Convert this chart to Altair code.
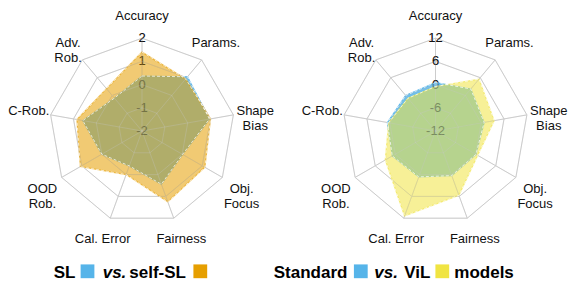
import math
import altair as alt
import pandas as pd

# ---------------- data ----------------
axes = ["Accuracy", "Params.", "Shape Bias", "Obj. Focus", "Fairness",
        "Cal. Error", "OOD Rob.", "C-Rob.", "Adv. Rob."]
axis_labels = ["Accuracy", "Params.", "Shape\nBias", "Obj.\nFocus", "Fairness",
               "Cal. Error", "OOD\nRob.", "C-Rob.", "Adv.\nRob."]

left_ticks = [2, 1, 0, -1, -2]
right_ticks = [12, 6, 0, -6, -12]

sl = [0.37, 1.05, 0.95, 0.02, 0.44, -0.40, 0.00, 0.59, -0.15]
self_sl = [1.40, 0.93, 1.00, 1.13, 1.25, 0.00, 1.07, 0.85, 0.38]
standard = [0.52, 2.2, 0.77, 0.08, 0.28, 0.63, 0.9, 0.63, 0.0]
vil = [-0.5, 5.5, 3.4, 0.6, 5.7, 11.4, 3.0, 0.3, -0.93]

series_names = ["SL", "self-SL", "Standard", "ViL"]
series_values = [sl, self_sl, standard, vil]
series_panel = ["L", "L", "R", "R"]
series_colors = ["#56B4E9", "#E69F00", "#56B4E9", "#F0E442"]
series_alpha = [0.85, 0.55, 0.85, 0.55]

legend_left = ["SL", "vs.", "self-SL"]
legend_right = ["Standard", "vs.", "ViL", "models"]

# ---------------- layout ----------------
W, H = 560, 274
K = 92.8           # px per unit radius
CX_L, CX_R, CY = 134, 427.5, 123
OFF_R = (CX_R - CX_L) / K
LABEL_R = 115 / K
XDOM = [-CX_L / K, (W - CX_L) / K]
YDOM = [-(H - CY) / K, CY / K]
N = len(axes)

panel_range = {"L": (left_ticks[-1], left_ticks[0]), "R": (right_ticks[-1], right_ticks[0])}

rows = []
for name, vals, pan in zip(series_names, series_values, series_panel):
    lo, hi = panel_range[pan]
    for i, v in enumerate(vals):
        rows.append({"series": name, "panel": pan, "idx": i, "value": v, "vmin": lo, "vmax": hi})
poly_df = pd.DataFrame(rows)

ring_rows = []
for pan, ticks in (("L", left_ticks), ("R", right_ticks)):
    lo, hi = panel_range[pan]
    for t in ticks[:-1]:
        for i in range(N):
            ring_rows.append({"panel": pan, "ring": t, "idx": i, "value": t, "vmin": lo, "vmax": hi})
ring_df = pd.DataFrame(ring_rows)

spoke_df = pd.DataFrame([{"panel": p, "idx": i} for p in ("L", "R") for i in range(N)])

tick_df = pd.DataFrame([{"panel": p, "value": t, "label": str(t),
                         "vmin": panel_range[p][0], "vmax": panel_range[p][1]}
                        for p, ts in (("L", left_ticks), ("R", right_ticks)) for t in ts])

label_df = pd.DataFrame([{"panel": p, "idx": i, "label": axis_labels[i]}
                         for p in ("L", "R") for i in range(N)])

offx = f"(datum.panel == 'L' ? 0 : {OFF_R})"
ang = f"datum.idx * 2 * PI / {N}"

xs = alt.Scale(domain=XDOM, nice=False, zero=False)
ys = alt.Scale(domain=YDOM, nice=False, zero=False)


def XY(xf="px", yf="py"):
    return dict(x=alt.X(f"{xf}:Q", scale=xs, axis=None),
                y=alt.Y(f"{yf}:Q", scale=ys, axis=None))


def polar(chart):
    return chart.transform_calculate(
        r="(datum.value - datum.vmin) / (datum.vmax - datum.vmin)"
    ).transform_calculate(
        px=f"{offx} + datum.r * sin({ang})",
        py=f"datum.r * cos({ang})",
    )


GRID = "#cccccc"

ring_base = polar(alt.Chart(ring_df)).transform_calculate(key="datum.panel + datum.ring")
rings = ring_base.mark_line(interpolate="linear-closed", stroke=GRID, strokeWidth=1).encode(
    **XY(), detail="key:N", order="idx:Q")
rings_over = ring_base.mark_line(interpolate="linear-closed", stroke=GRID, strokeWidth=1,
                                 strokeOpacity=0.3).encode(**XY(), detail="key:N", order="idx:Q")

spoke_base = alt.Chart(spoke_df).transform_calculate(
    px=f"{offx}", py="0",
    px2=f"{offx} + sin({ang})", py2=f"cos({ang})",
)
spokes = spoke_base.mark_rule(stroke=GRID, strokeWidth=1).encode(**XY(), x2="px2:Q", y2="py2:Q")
spokes_over = spoke_base.mark_rule(stroke=GRID, strokeWidth=1, strokeOpacity=0.3).encode(
    **XY(), x2="px2:Q", y2="py2:Q")

tick_base = alt.Chart(tick_df).transform_calculate(
    px=offx, py="(datum.value - datum.vmin) / (datum.vmax - datum.vmin)"
)
ticks = tick_base.mark_text(font="Liberation Sans", fontSize=13, color="#111111",
                            align="center", baseline="middle").encode(**XY(), text="label:N")
ticks_over = tick_base.mark_text(font="Liberation Sans", fontSize=13, color="#111111",
                                 opacity=0.3, align="center",
                                 baseline="middle").encode(**XY(), text="label:N")

fills = []
outlines = []
for name, col, a in zip(series_names, series_colors, series_alpha):
    b = polar(alt.Chart(poly_df)).transform_filter(alt.datum.series == name)
    fills.append(b.mark_line(interpolate="linear-closed", filled=True, fill=col,
                             fillOpacity=a, stroke=col, strokeOpacity=min(1, a + 0.1),
                             strokeWidth=1.2).encode(**XY(), order="idx:Q"))
    outlines.append(b.mark_line(interpolate="linear-closed", stroke="white",
                                strokeWidth=0.8, strokeOpacity=0.9,
                                strokeDash=[3, 2]).encode(**XY(), order="idx:Q"))

labels = alt.Chart(label_df).transform_calculate(
    px=f"{offx} + {LABEL_R} * sin({ang})",
    py=f"{LABEL_R} * cos({ang})",
).mark_text(font="Liberation Sans", fontSize=13, color="#111111", align="center",
            baseline="middle", lineBreak="\n", lineHeight=15).encode(**XY(), text="label:N")

# ---------------- legend ----------------
one = alt.Data(values=[{"a": 1}])
LB = 269.5      # text baseline
SQ_Y = 263.3    # square centre


def ltext(s, x, italic=False):
    return alt.Chart(one).mark_text(
        font="Liberation Sans", fontSize=17, fontWeight="bold",
        fontStyle="italic" if italic else "normal", color="#000000",
        align="left", baseline="alphabetic"
    ).encode(x=alt.value(x), y=alt.value(LB), text=alt.value(s))


def lsq(col, x):
    return alt.Chart(one).mark_square(size=190, color=col, opacity=1).encode(
        x=alt.value(x), y=alt.value(SQ_Y))


legend = [
    ltext(legend_left[0], 45.7), lsq(series_colors[0], 79.5),
    ltext(legend_left[1], 94.7, True), ltext(legend_left[2], 121.3),
    lsq(series_colors[1], 192.3),
    ltext(legend_right[0], 265.7), lsq(series_colors[2], 352.8),
    ltext(legend_right[1], 366.3, True), ltext(legend_right[2], 396.3),
    lsq(series_colors[3], 434.3), ltext(legend_right[3], 446.3),
]

chart = alt.layer(
    rings, spokes, ticks, *fills, rings_over, spokes_over, *outlines, ticks_over,
    labels, *legend
).properties(
    width=W, height=H, padding=0, background="white",
    autosize=alt.AutoSizeParams(type="none")
).configure_view(stroke=None)

chart.save("out.html", embed_options={"renderer": "svg", "actions": False})
